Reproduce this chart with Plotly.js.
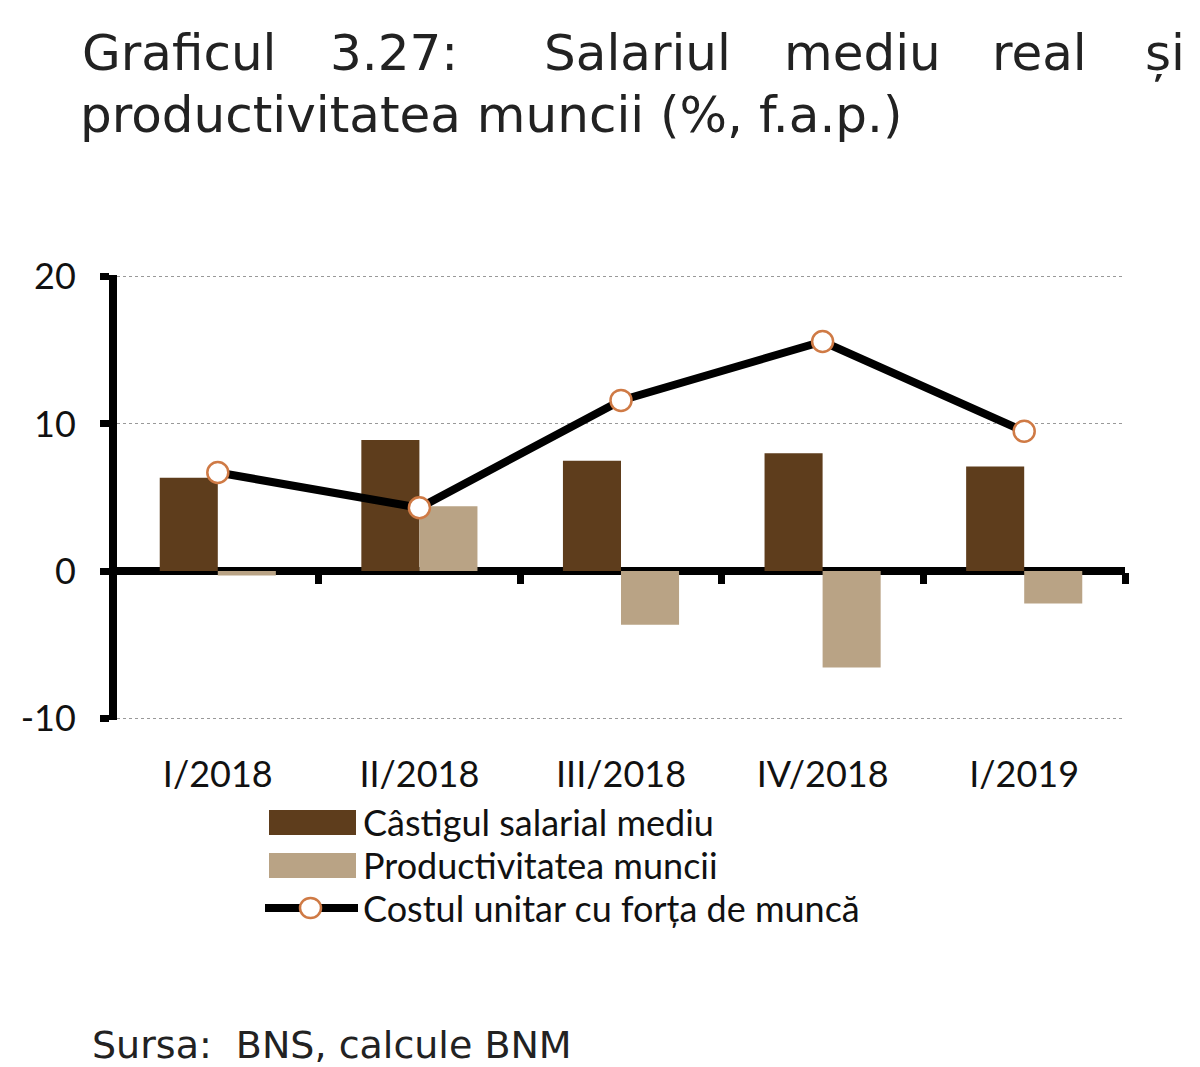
<!DOCTYPE html>
<html>
<head>
<meta charset="utf-8">
<script src="https://cdn.plot.ly/plotly-3.0.1.min.js"></script>
<style>body{margin:0;background:#fff}</style>
</head>
<body>
<div id="chart" style="width:1200px;height:1067px"></div>
<script>
var quarters = ['I/2018', 'II/2018', 'III/2018', 'IV/2018', 'I/2019'];
var castig = [6.35, 8.9, 7.5, 8.0, 7.1];
var productivitate = [-0.3, 4.4, -3.65, -6.55, -2.2];
var costUnitar = [6.7, 4.3, 11.6, 15.6, 9.5];
var yTicks = [-10, 0, 10, 20];
var yTickText = ['-10', '0', '10', '20'];
var boundaries = [0.5, 1.5, 2.5, 3.5, 4.5];
var seriesNames = ['Câstigul salarial mediu', 'Productivitatea muncii', 'Costul unitar cu forța de muncă'];

var dark = '#5e3d1c', light = '#b9a385', ring = '#cf7a45';
var L = 117, T = 275, W = 1008, H = 445;
function px(x){ return (x - L) / W; }
function py(y){ return (T + H - y) / H; }

var trace1 = {x: quarters, y: castig, type: 'bar', name: seriesNames[0],
  marker: {color: dark}, showlegend: false};
var trace2 = {x: quarters, y: productivitate, type: 'bar', name: seriesNames[1],
  marker: {color: light}, showlegend: false};
var trace3 = {x: quarters, y: costUnitar, type: 'scatter', mode: 'lines+markers', name: seriesNames[2],
  line: {color: '#000', width: 8},
  marker: {symbol: 'circle', size: 21, color: '#fff', line: {color: ring, width: 2.5}},
  showlegend: false};
var ticksTrace = {x: [], y: [], xaxis: 'x2', type: 'scatter', showlegend: false};

// title words, justified like the original
var titleWords = ['Graficul', '3.27:', 'Salariul', 'mediu', 'real', 'și'];
var titleX = [80, 328, 542, 782, 990, 1143];
var ann = [];
for (var i = 0; i < titleWords.length; i++){
  ann.push({text: titleWords[i], xref: 'paper', yref: 'paper', x: px(titleX[i]), y: py(53),
    xanchor: 'left', yanchor: 'middle', showarrow: false,
    font: {family: 'DejaVu Sans', size: 50, color: '#222'}});
}
ann.push({text: 'productivitatea muncii (%, f.a.p.)', xref: 'paper', yref: 'paper', x: px(78), y: py(115),
  xanchor: 'left', yanchor: 'middle', showarrow: false,
  font: {family: 'DejaVu Sans', size: 50, color: '#222'}});
ann.push({text: 'Sursa:  BNS, calcule BNM', xref: 'paper', yref: 'paper', x: px(90), y: py(1045),
  xanchor: 'left', yanchor: 'middle', showarrow: false,
  font: {family: 'DejaVu Sans', size: 38, color: '#222'}});

// legend
var legY = [822, 865, 908];
for (var j = 0; j < 3; j++){
  ann.push({text: seriesNames[j], xref: 'paper', yref: 'paper', x: px(361), y: py(legY[j]),
    xanchor: 'left', yanchor: 'middle', showarrow: false,
    font: {family: 'Lato', size: 36, color: '#111'}});
}
var shapes = [
  {type: 'rect', xref: 'paper', yref: 'paper', x0: px(269), x1: px(356), y0: py(810), y1: py(835),
    fillcolor: dark, line: {width: 0}},
  {type: 'rect', xref: 'paper', yref: 'paper', x0: px(269), x1: px(356), y0: py(853), y1: py(878),
    fillcolor: light, line: {width: 0}},
  {type: 'line', xref: 'paper', yref: 'paper', x0: px(265), x1: px(358), y0: py(908), y1: py(908),
    line: {color: '#000', width: 8}},
  {type: 'circle', xref: 'paper', yref: 'paper', x0: px(300), x1: px(321), y0: py(898), y1: py(918),
    fillcolor: '#fff', line: {color: ring, width: 2.5}}
];

var layout = {
  width: 1200, height: 1067,
  margin: {l: L, r: 1200 - L - W, t: T, b: 1067 - T - H},
  paper_bgcolor: '#fff', plot_bgcolor: '#fff',
  barmode: 'group', bargap: 0.424, bargroupgap: 0,
  showlegend: false,
  xaxis: {type: 'category', range: [-0.5, 4.5], showgrid: false, zeroline: false,
    showline: false, ticks: '', ticklabelstandoff: 30,
    tickfont: {family: 'Lato', size: 36, color: '#111'}},
  xaxis2: {overlaying: 'x', anchor: 'free', position: 1/3, range: [-0.5, 4.5],
    tickmode: 'array', tickvals: boundaries, showticklabels: false,
    ticks: 'outside', ticklen: 11, tickwidth: 7, tickcolor: '#000',
    showgrid: false, zeroline: false, showline: false},
  yaxis: {range: [-10.12, 20.12], tickmode: 'array', tickvals: yTicks, ticktext: yTickText,
    showgrid: true, gridcolor: '#999', griddash: 'dot', gridwidth: 1,
    zeroline: true, zerolinecolor: '#000', zerolinewidth: 8,
    showline: true, linecolor: '#000', linewidth: 8,
    ticks: 'outside', ticklen: 9, tickwidth: 7, tickcolor: '#000', ticklabelstandoff: 17,
    tickfont: {family: 'Lato', size: 36, color: '#111'}},
  annotations: ann,
  shapes: shapes
};

Plotly.newPlot('chart', [trace1, trace2, trace3, ticksTrace], layout, {displayModeBar: false});
</script>
</body>
</html>
